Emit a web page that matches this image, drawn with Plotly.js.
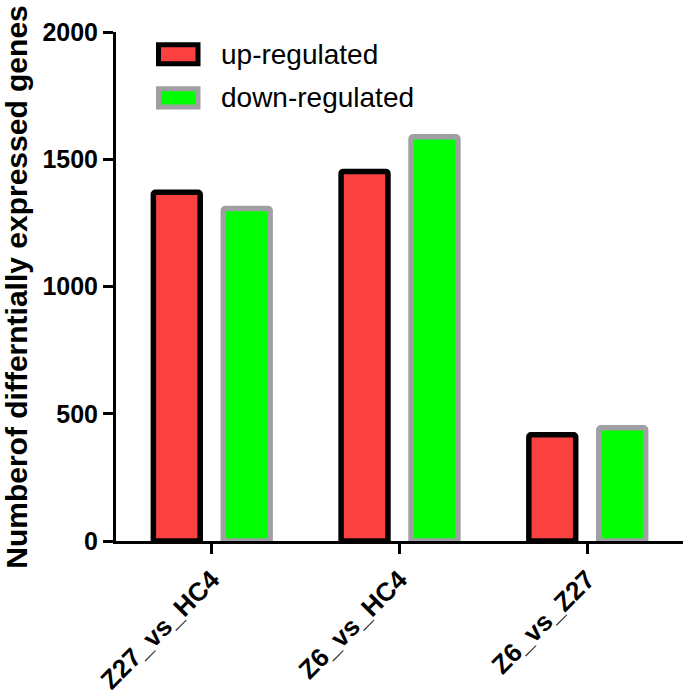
<!DOCTYPE html>
<html>
<head>
<meta charset="utf-8">
<script src="https://cdn.plot.ly/plotly-3.0.1.min.js"></script>
<style>html,body{margin:0;padding:0;background:#fff;}#chart{width:685px;height:694px;}</style>
</head>
<body>
<div id="chart"></div>
<script>
const categories = ["Z27_vs_HC4", "Z6_vs_HC4", "Z6_vs_Z27"];
const upRegulated = [1370, 1452, 417];
const downRegulated = [1306, 1588, 445];
const seriesNames = ["up-regulated", "down-regulated"];
const yTicks = [0, 500, 1000, 1500, 2000];
const yTitle = "Numberof differntially expressed genes";

const FONT = "Arial, 'Liberation Sans', sans-serif";
const idx = categories.map((c, i) => i);

const traces = [
  {
    type: "bar", name: seriesNames[0], x: idx, y: upRegulated,
    marker: {color: "#FA4040", line: {color: "#000000", width: 5.5}, cornerradius: 2},
    showlegend: false, hoverinfo: "y"
  },
  {
    type: "bar", name: seriesNames[1], x: idx, y: downRegulated,
    marker: {color: "#00FF00", line: {color: "#A0A0A4", width: 5.5}, cornerradius: 2},
    showlegend: false, hoverinfo: "y"
  }
];

function px2x(px) { return (px - 116) / 567; }
function px2y(py) { return (541 - py) / 508.5; }

const layout = {
  width: 685, height: 694,
  margin: {l: 116, r: 2, t: 32, b: 153, pad: 0},
  paper_bgcolor: "#fff", plot_bgcolor: "#fff",
  barmode: "group", bargap: 0.255, bargroupgap: 0.33,
  font: {family: FONT, color: "#000"},
  xaxis: {
    range: [-0.51, 2.51], tickvals: idx, ticktext: categories,
    tickangle: -45, ticks: "outside", ticklen: 10, tickwidth: 3, tickcolor: "#000",
    showline: true, linewidth: 3, linecolor: "#000", showgrid: false, zeroline: false,
    tickfont: {family: FONT, size: 26, color: "#000", weight: "bold"}
  },
  yaxis: {
    range: [0, 2000], tickvals: yTicks, ticktext: yTicks.map(String),
    ticks: "outside", ticklen: 10, tickwidth: 3, tickcolor: "#000",
    showline: true, linewidth: 3, linecolor: "#000", showgrid: false, zeroline: false,
    tickfont: {family: FONT, size: 25, color: "#000", weight: "bold"}
  },
  shapes: [
    {type: "rect", xref: "paper", yref: "paper",
     x0: px2x(158.5), x1: px2x(198), y0: px2y(64.2), y1: px2y(45.2),
     fillcolor: "#FA4040", line: {color: "#000", width: 5}},
    {type: "rect", xref: "paper", yref: "paper",
     x0: px2x(158.5), x1: px2x(198), y0: px2y(107.5), y1: px2y(89.2),
     fillcolor: "#00FF00", line: {color: "#A0A0A4", width: 5}}
  ],
  annotations: [
    {xref: "paper", yref: "paper", x: px2x(219), y: px2y(55), xanchor: "left", yanchor: "middle",
     text: seriesNames[0], showarrow: false, font: {family: FONT, size: 28, color: "#000"}},
    {xref: "paper", yref: "paper", x: px2x(219), y: px2y(98), xanchor: "left", yanchor: "middle",
     text: seriesNames[1], showarrow: false, font: {family: FONT, size: 28, color: "#000"}},
    {xref: "paper", yref: "paper", x: px2x(17), y: px2y(287), xanchor: "center", yanchor: "middle",
     textangle: -90, text: "<b>" + yTitle + "</b>", showarrow: false,
     font: {family: FONT, size: 30, color: "#000"}}
  ]
};

Plotly.newPlot("chart", traces, layout, {displayModeBar: false, staticPlot: true});
</script>
</body>
</html>
